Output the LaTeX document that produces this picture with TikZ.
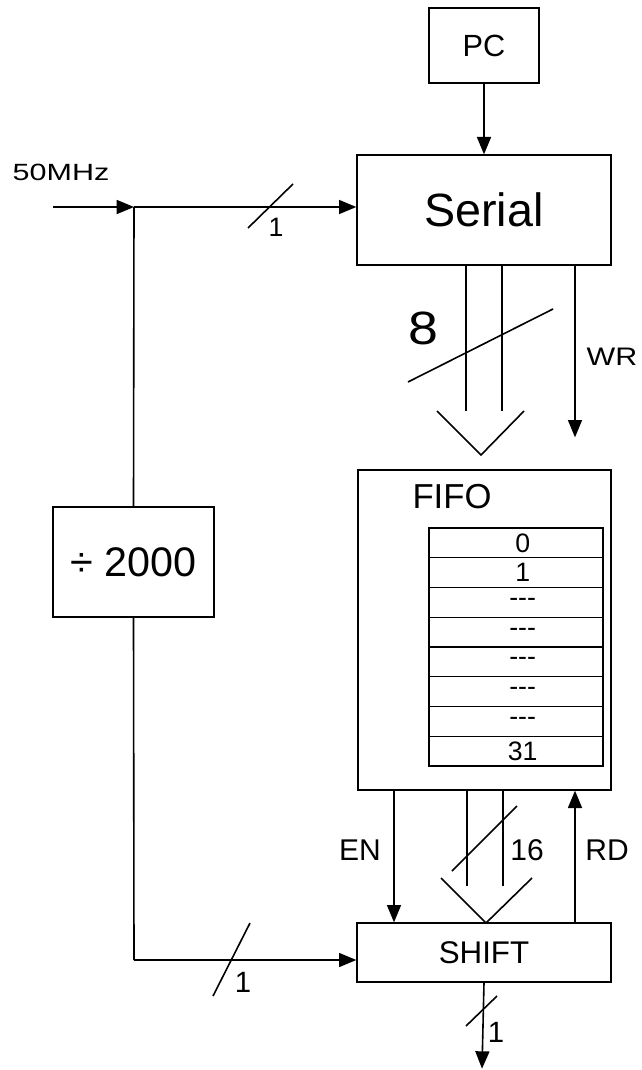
\documentclass[tikz,border=0pt]{standalone}
\usepackage{fontspec}
\setmainfont{Liberation Sans}
\usepackage{tikz}
\usetikzlibrary{arrows.meta,calc}

\newcommand{\fsz}[1]{\fontsize{#1}{#1}\selectfont}

\begin{document}
\begin{tikzpicture}[
		x=0.75pt, y=-0.75pt,
		box/.style={
			draw,
			line width=1pt,
			inner sep=0pt
		},
		cell/.style={
			draw,
			line width=1pt,
			inner sep=0pt,
			minimum width=130.5pt,
			minimum height=22.3pt,
			font=\fsz{20pt}
		},
		tag/.style={inner sep=0pt},
		wire/.style={line width=1.2pt},
		arrow/.style={wire, -{Triangle[length=13pt,width=10.5pt]}}
		]
		\useasboundingbox (0,0) rectangle (642,1070);
		
		% Blocks
		\node[box, minimum width=82.5pt, minimum height=56.25pt,
			font=\fsz{23pt}] (pc) at (484,45.5) {PC};
		\node[box, minimum width=190.5pt, minimum height=82.5pt,
			font=\fsz{35pt}] (serial) at (484,210) {Serial};
		\node[box, minimum width=120.75pt, minimum height=82.5pt,
			font=\fsz{31pt}] (divider) at (133.5,562) {÷ 2000};
		\node[box, minimum width=189.75pt, minimum height=240pt] (fifo) at (484.5,630) {};
		\node[tag, font=\fsz{26pt}] (fifolabel) at (452,497) {FIFO};
		\node[box, minimum width=190.5pt, minimum height=44.25pt,
			font=\fsz{23.5pt}] (shift) at (484,952.5) {SHIFT};
		
		% FIFO words
		\foreach \t [count=\i] in {0,1,{-{}-{}-},{-{}-{}-},{-{}-{}-},{-{}-{}-},{-{}-{}-},31}
			\node[cell] (word\i) at (516,{528+29.75*(\i-0.5)}) {\hspace*{10pt}\t};
		
		% Clock
		\node[tag, font=\fsz{17.6pt}] (clklabel) at (61,172) {\scalebox{1.3}[1]{50MHz}};
		\coordinate (clkin) at (53,207);
		\coordinate (split) at (134,207);
		\coordinate (corner) at (134,960);
		\draw[arrow] (clkin) -- (split);
		\draw[arrow] (split) -- (split -| serial.west);
		\draw[wire] (split) -- (divider.north);
		\draw[wire] (divider.south) -- (corner);
		\draw[arrow] (corner) -- (corner -| shift.west);
		\draw[wire] (248,228) -- (293,184);
		\node[tag, font=\fsz{20pt}] (clkwidth) at (276,227) {1};
		\draw[wire] (213,996) -- (250,923);
		\node[tag, font=\fsz{22pt}] (tickwidth) at (243,982) {1};
		
		% PC to Serial
		\draw[arrow] (pc.south) -- (serial.north);
		
		% Serial to FIFO
		\draw[wire] ($(serial.south)+(-18,0)$) -- ($(fifo.north)+(-18.5,-58)$);
		\draw[wire] ($(serial.south)+(18,0)$) -- ($(fifo.north)+(17.5,-58)$);
		\draw[wire] (437,411) -- (481,455) -- (524,411);
		\draw[wire] (408,382) -- (553,309);
		\node[tag, font=\fsz{35pt}] (inwidth) at (423,328) {\scalebox{1.15}[1]{8}};
		\draw[arrow] ($(serial.south)+(91,0)$) -- ($(fifo.north)+(90.5,-32)$);
		\node[tag, font=\fsz{19pt}] (wr) at (612,357) {\scalebox{1.2}[1]{WR}};
		
		% FIFO to SHIFT
		\draw[arrow] ($(fifo.south)+(-90.5,0)$) -- ($(shift.north)+(-90,0)$);
		\node[tag, font=\fsz{22.5pt}] (en) at (360,850) {EN};
		\draw[wire] ($(fifo.south)+(-17.5,0)$) -- ($(shift.north)+(-17,-36)$);
		\draw[wire] ($(fifo.south)+(18.5,0)$) -- ($(shift.north)+(19,-36)$);
		\draw[wire] (441,878) -- (486,923) -- (532,878);
		\draw[wire] (452,871) -- (517,806);
		\node[tag, font=\fsz{22.5pt}] (outwidth) at (527,850) {16};
		\draw[arrow] ($(shift.north)+(91,0)$) -- ($(fifo.south)+(90.5,0)$);
		\node[tag, font=\fsz{22.5pt}] (rd) at (607,850) {RD};
		
		% Output
		\draw[arrow] (shift.south) -- ($(shift.south)+(-2,86)$);
		\draw[wire] (466,1026) -- (497,996);
		\node[tag, font=\fsz{22pt}] (serwidth) at (496,1032) {1};
		
	\end{tikzpicture}
\end{document}
